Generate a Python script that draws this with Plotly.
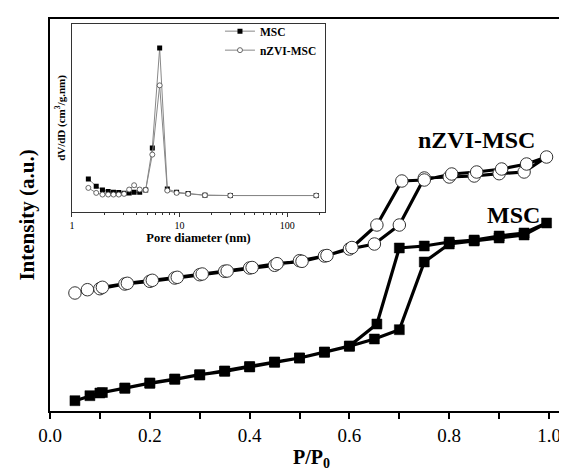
import plotly.graph_objects as go

# ---- main isotherms (relative pressure, intensity a.u.) ----
msc_p = [0.05, 0.08, 0.10, 0.15, 0.20, 0.25, 0.30, 0.35, 0.40, 0.45, 0.50, 0.55, 0.60, 0.65, 0.70, 0.75,
         0.80, 0.85, 0.90, 0.95, 0.995,
         0.95, 0.90, 0.85, 0.80, 0.75, 0.70, 0.655, 0.60, 0.55, 0.50, 0.45, 0.40, 0.35, 0.30, 0.25, 0.20, 0.15, 0.105]
msc_v = [10.3, 15.3, 18.0, 22.7, 27.7, 31.7, 36.3, 39.7, 44.0, 48.7, 53.0, 58.7, 64.7, 72.0, 81.3, 149.0,
         167.0, 170.0, 173.0, 176.0, 188.0,
         178.0, 175.0, 171.0, 169.0, 165.0, 163.0, 87.0, 65.0, 59.0, 53.0, 49.0, 44.5, 40.0, 36.0, 32.0, 28.0, 23.0, 18.5]

nz_p = [0.05, 0.075, 0.10, 0.15, 0.20, 0.25, 0.30, 0.35, 0.40, 0.45, 0.50, 0.55, 0.60, 0.65, 0.70, 0.75,
        0.80, 0.85, 0.90, 0.95, 0.995,
        0.955, 0.905, 0.855, 0.805, 0.75, 0.705, 0.655, 0.605, 0.555, 0.505, 0.455, 0.405, 0.355, 0.305, 0.255, 0.205, 0.155, 0.105]
nz_v = [118.0, 121.3, 122.3, 127.0, 129.7, 133.0, 136.3, 139.7, 143.0, 145.7, 150.3, 155.0, 162.0, 167.0, 186.0, 233.0,
        234.0, 235.0, 237.3, 239.0, 254.0,
        247.0, 242.0, 239.0, 237.0, 231.0, 230.0, 186.0, 163.5, 155.5, 149.7, 147.3, 143.5, 140.0, 137.0, 133.7, 130.7, 127.7, 123.7]

# ---- inset: pore size distribution ----
pore_d = [1.42, 1.68, 1.92, 2.17, 2.43, 2.72, 3.05, 3.40, 3.78, 4.26, 4.84, 5.58, 6.53, 7.69, 9.38, 12.0, 17.2, 29.6, 186.0]
psd_msc = [99, 77, 66, 61, 59, 58, 56, 57, 59, 59, 66, 192, 492, 69, 59, 55, 50, 49, 49]
psd_nz = [72, 57, 52, 52, 52, 52, 54, 67, 80, 67, 66, 172, 380, 64, 57, 54, 50, 49, 49]

x_ticks = [0.0, 0.2, 0.4, 0.6, 0.8, 1.0]
x_ticklabels = ["0.0", "0.2", "0.4", "0.6", "0.8", "1.0"]
inset_ticks = [1, 10, 100]
inset_ticklabels = ["1", "10", "100"]
inset_minor = [2, 3, 4, 5, 6, 7, 8, 9, 20, 30, 40, 50, 60, 70, 80, 90, 200]

SERIF = "Liberation Serif, Times New Roman, serif"

fig = go.Figure()

fig.add_trace(go.Scatter(x=msc_p, y=msc_v, mode="lines+markers", showlegend=False,
                         line=dict(color="black", width=3.2),
                         marker=dict(symbol="square", size=10, color="black",
                                     line=dict(color="black", width=0.5)),
                         xaxis="x", yaxis="y"))
fig.add_trace(go.Scatter(x=nz_p, y=nz_v, mode="lines+markers", showlegend=False,
                         line=dict(color="black", width=3.2),
                         marker=dict(symbol="circle", size=12.5, color="white",
                                     line=dict(color="#333333", width=1)),
                         xaxis="x", yaxis="y"))

fig.add_trace(go.Scatter(x=pore_d, y=psd_msc, mode="lines+markers", name="<b>MSC</b>",
                         line=dict(color="#888888", width=1),
                         marker=dict(symbol="square", size=5, color="black"),
                         xaxis="x2", yaxis="y2"))
fig.add_trace(go.Scatter(x=pore_d, y=psd_nz, mode="lines+markers", name="<b>nZVI-MSC</b>",
                         line=dict(color="#888888", width=1),
                         marker=dict(symbol="circle", size=5, color="white",
                                     line=dict(color="#444444", width=0.8)),
                         xaxis="x2", yaxis="y2"))

fig.update_layout(
    width=567, height=471,
    margin=dict(l=42, r=0, t=11, b=68),
    paper_bgcolor="white", plot_bgcolor="white",
    font=dict(family=SERIF, color="black"),
    xaxis=dict(domain=[0, 1], range=[0, 1.048], tickmode="array", tickvals=x_ticks, ticktext=x_ticklabels,
               ticks="outside", ticklen=6, tickwidth=1.5, tickcolor="black",
               minor=dict(dtick=0.1, tick0=0, ticks="outside", ticklen=6, tickwidth=1.5, tickcolor="black"),
               showline=True, linecolor="black", linewidth=2, mirror=True, showgrid=False, zeroline=False,
               tickfont=dict(size=19, family=SERIF),
               title=dict(text="<b>P/P<sub>0</sub></b>", font=dict(size=20, family=SERIF), standoff=5)),
    yaxis=dict(domain=[0, 1], range=[0, 392], showticklabels=False, ticks="",
               showline=True, linecolor="black", linewidth=2, mirror=True, showgrid=False, zeroline=False,
               title=dict(text="<b>Intensity (a.u.)</b>", font=dict(size=21, family=SERIF), standoff=8)),
    xaxis2=dict(domain=[0.042, 0.526], anchor="y2", type="log", range=[0, 2.352],
                tickmode="array", tickvals=inset_ticks, ticktext=inset_ticklabels,
                ticks="outside", ticklen=4, tickwidth=1, tickcolor="#333333",
                minor=dict(tickvals=inset_minor, ticks="outside", ticklen=2, tickwidth=1, tickcolor="#333333"),
                showline=True, linecolor="#333333", linewidth=1, mirror=True, showgrid=False, zeroline=False,
                tickfont=dict(size=10, family=SERIF),
                title=dict(text="<b>Pore diameter (nm)</b>", font=dict(size=12.5, family=SERIF), standoff=3)),
    yaxis2=dict(domain=[0.508, 0.987], anchor="x2", range=[0, 564], showticklabels=False, ticks="",
                showline=True, linecolor="#333333", linewidth=1, mirror=True, showgrid=False, zeroline=False,
                title=dict(text="<b>dV/dD (cm<sup>3</sup>/g.nm)</b>", font=dict(size=11, family=SERIF), standoff=3)),
    legend=dict(x=0.325, y=1.006, xanchor="left", yanchor="top", bgcolor="rgba(0,0,0,0)",
                font=dict(size=11.5, family=SERIF), tracegroupgap=0, itemwidth=30),
    annotations=[
        dict(x=0.854, y=271, xref="x", yref="y", text="<b>nZVI-MSC</b>", showarrow=False,
             font=dict(size=24, family=SERIF, color="black")),
        dict(x=0.928, y=196, xref="x", yref="y", text="<b>MSC</b>", showarrow=False,
             font=dict(size=24, family=SERIF, color="black")),
    ],
)

fig.write_html("out.html")
